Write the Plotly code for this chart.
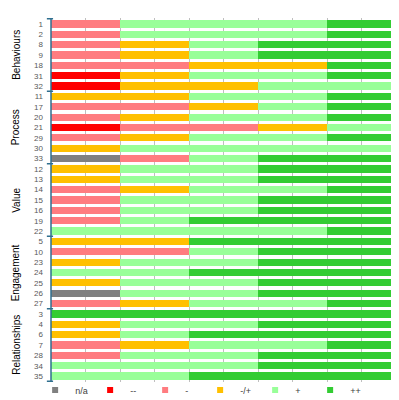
import plotly.graph_objects as go

# Row ids (top to bottom) and groups
groups = ["Behaviours", "Process", "Value", "Engagement", "Relationships"]
group_sizes = [7, 7, 7, 7, 7]
row_ids = ["1", "2", "8", "9", "18", "31", "32",
           "11", "17", "20", "21", "29", "30", "33",
           "12", "13", "14", "15", "16", "19", "22",
           "5", "10", "23", "24", "25", "26", "27",
           "3", "4", "6", "7", "28", "34", "35"]

# Counts of responses (out of 5) per rating
na    = [0,0,0,0,0,0,0, 0,0,0,0,0,0,1, 0,0,0,0,0,0,0, 0,0,0,0,0,1,0, 0,0,0,0,0,0,0]
vneg  = [0,0,0,0,0,1,1, 0,0,0,1,0,0,0, 0,0,0,0,0,0,0, 0,0,0,0,0,0,0, 0,0,0,0,0,0,0]
neg   = [1,1,1,1,2,0,0, 0,2,1,2,1,0,1, 0,0,1,1,1,1,0, 0,2,0,0,0,0,1, 0,0,0,1,1,0,0]
mixed = [0,0,1,1,2,1,2, 2,1,1,1,1,1,0, 1,1,1,0,0,0,0, 2,0,1,0,1,0,1, 0,1,1,1,0,0,0]
pos   = [3,3,1,1,0,2,2, 2,1,2,1,2,4,1, 2,2,2,2,2,1,4, 0,1,2,2,2,2,2, 0,2,1,2,2,3,2]
vpos  = [1,1,2,2,1,1,0, 1,1,1,0,1,0,2, 2,2,1,2,2,3,1, 3,2,2,3,2,2,1, 5,2,3,1,2,2,3]

series_names = ["n/a", "--", "-", "-/+", "+", "++"]
series_values = [na, vneg, neg, mixed, pos, vpos]
colors = ["#808080", "#FF0000", "#FF7C80", "#FFC000", "#99FF99", "#33CC33"]

fig = go.Figure()
for name, vals, col in zip(series_names, series_values, colors):
    fig.add_trace(go.Bar(
        y=row_ids, x=vals, name=name, orientation="h",
        marker=dict(color=col, line=dict(width=0)),
        hoverinfo="name+x", showlegend=False, legendgroup=name,
    ))
# small square legend entries
for name, col in zip(series_names, colors):
    fig.add_trace(go.Scatter(
        x=[None], y=[None], mode="markers", name=name, legendgroup=name,
        marker=dict(symbol="square", size=6, color=col),
    ))

axis_col = "#2F6F8F"
n = len(row_ids)
shapes = []
shapes.append(dict(type="line", xref="paper", yref="y", x0=0, x1=0,
                   y0=-0.5, y1=n - 0.5, line=dict(color=axis_col, width=1.5)))
bounds = [-0.5]
acc = -0.5
for s in group_sizes:
    acc += s
    bounds.append(acc)
for b in bounds:
    shapes.append(dict(type="line", xref="paper", yref="y", x0=-0.012, x1=0.006,
                       y0=b, y1=b, line=dict(color=axis_col, width=1.5)))

annotations = []
start = 0
for g, s in zip(groups, group_sizes):
    mid = start + (s - 1) / 2
    annotations.append(dict(text=g, xref="paper", yref="y", x=-0.102, y=mid,
                            textangle=-90, showarrow=False,
                            font=dict(family="Liberation Sans", size=10, color="#000000"),
                            xanchor="center", yanchor="middle"))
    start += s

fig.update_layout(
    width=399, height=400,
    barmode="stack", bargap=0.3,
    plot_bgcolor="white", paper_bgcolor="white",
    margin=dict(l=43, r=11, t=10, b=26, autoexpand=False),
    shapes=shapes, annotations=annotations,
    xaxis=dict(range=[0, 5], dtick=0.5, showgrid=True, gridcolor="#BFBFBF",
               gridwidth=1, showticklabels=False, zeroline=False, showline=False,
               ticks=""),
    yaxis=dict(type="category", categoryorder="array", categoryarray=row_ids,
               tickmode="array", tickvals=row_ids, ticktext=row_ids,
               autorange="reversed", showgrid=False, zeroline=False,
               showline=False, ticks="", ticklabelstandoff=7,
               tickfont=dict(family="Liberation Sans", size=8, color="#595959")),
    legend=dict(orientation="h", x=-0.046, xanchor="left", y=-0.022, yanchor="middle",
                entrywidth=10, entrywidthmode="pixels", itemwidth=30,
                font=dict(family="Liberation Sans", size=9, color="#404040"),
                traceorder="normal", bgcolor="rgba(0,0,0,0)"),
    showlegend=True,
)

fig.write_html("out.html")
